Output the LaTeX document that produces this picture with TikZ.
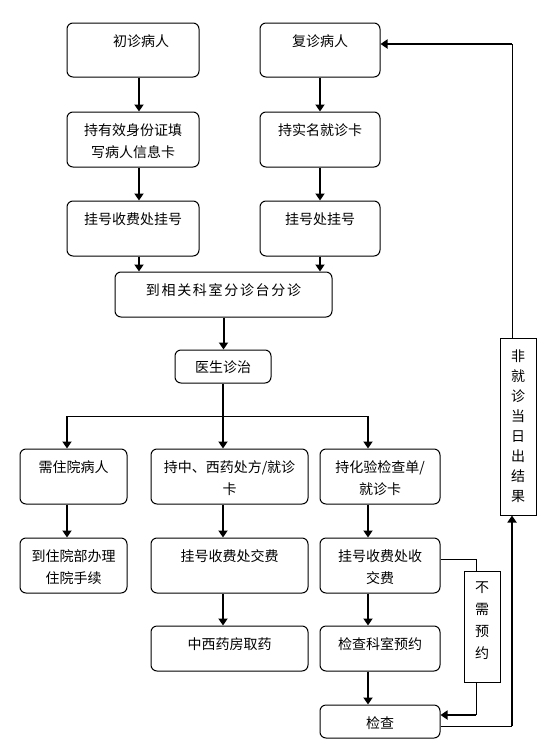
\documentclass[tikz,border=0pt]{standalone}
\usepackage{fontspec}
\setmainfont{Noto Sans CJK SC}
\newfontfamily\widecjk[LetterSpace=12]{Noto Sans CJK SC}
\usetikzlibrary{arrows.meta}
\newcommand\bt[4]{\parbox[c][#2pt][t]{#1pt}{\centering\rule{0pt}{#3pt}#4\par}}
\tikzset{
  box/.style={draw, rounded corners=6pt, inner sep=0pt, line width=1pt, font=\fontsize{14pt}{22pt}\selectfont},
  sbox/.style={draw, inner sep=0pt, line width=1pt},
  thinline/.style={line width=1pt},
  arr/.style={line width=2pt, -{Triangle[length=7pt,width=9pt]}}
}
\begin{document}
\begin{tikzpicture}[x=1pt,y=-1pt]
\useasboundingbox (0,0) rectangle (558,742);
% left column
\node[box] (a1) at (133,50) {\bt{132}{54}{23}{\hspace*{16pt}初诊病人}};
\node[box] (a2) at (133,139.5) {\bt{132}{55}{23}{持有效身份证填\\写病人信息卡}};
\node[box] (a3) at (133,228.5) {\bt{132}{55}{23}{挂号收费处挂号}};
% right column
\node[box] (b1) at (320,50) {\bt{120}{54}{23}{复诊病人}};
\node[box] (b2) at (320,139.5) {\bt{120}{55}{23}{持实名就诊卡}};
\node[box] (b3) at (320,228.5) {\bt{120}{55}{23}{挂号处挂号}};
% middle
\node[box] (m1) at (223.5,294.5) {\bt{217}{45}{23}{\widecjk 到相关科室分诊台分诊}};
\node[box] (m2) at (223,366.5) {\bt{96}{33}{22}{医生诊治}};
% lower branches
\node[box] (c1) at (73.5,476.5) {\bt{107}{55}{23}{需住院病人}};
\node[box] (c2) at (73.5,565.5) {\bt{107}{55}{23}{到住院部办理\\住院手续}};
\node[box] (d1) at (229.5,476.5) {\bt{157}{55}{23}{持中、西药处方/就诊\\卡}};
\node[box] (d2) at (229.5,565.5) {\bt{157}{55}{23}{挂号收费处交费}};
\node[box] (d3) at (229.5,648.5) {\bt{157}{45}{23}{中西药房取药}};
\node[box] (e1) at (380,476.5) {\bt{120}{55}{23}{持化验检查单/\\就诊卡}};
\node[box] (e2) at (380,565.5) {\bt{120}{55}{23}{挂号收费处收\\交费}};
\node[box] (e3) at (380,648.5) {\bt{120}{45}{23}{检查科室预约}};
\node[box] (e4) at (380,721.5) {\bt{120}{33}{23}{检查}};
% side boxes
\node[sbox, font=\fontsize{14pt}{20pt}\selectfont] (r) at (518,426.5) {\bt{36}{177}{23}{非\\就\\诊\\当\\日\\出\\结\\果}};
\node[sbox, font=\fontsize{14pt}{22pt}\selectfont] (n) at (482,626.5) {\bt{36}{111}{21}{不\\需\\预\\约}};
% connectors top
\draw[arr] ([xshift=6pt]a1.south) -- ([xshift=6pt]a2.north);
\draw[arr] ([xshift=6pt]a2.south) -- ([xshift=6pt]a3.north);
\draw[arr] ([xshift=6pt]a3.south) -- ([xshift=6pt]a3.south |- m1.north);
\draw[arr] (b1.south) -- (b2.north);
\draw[arr] (b2.south) -- (b3.north);
\draw[arr] (b3.south) -- (b3.south |- m1.north);
\draw[arr] (m1.south) -- (m1.south |- m2.north);
% branch
\coordinate (brL) at (67,416);
\coordinate (brM) at (223,416);
\coordinate (brR) at (368,416);
\draw[thinline] (brL) -- (brR);
\draw[arr] (m2.south) -- (brM |- d1.north);
\draw[arr] (brL) -- (brL |- c1.north);
\draw[arr] (brR) -- (brR |- e1.north);
\draw[arr] (brL |- c1.south) -- (brL |- c2.north);
\draw[arr] (brM |- d1.south) -- (brM |- d2.north);
\draw[arr] (brM |- d2.south) -- (brM |- d3.north);
\draw[arr] (brR |- e1.south) -- (brR |- e2.north);
\draw[arr] (brR |- e2.south) -- (brR |- e3.north);
\draw[arr] (brR |- e3.south) -- (brR |- e4.north);
% no appointment path
\coordinate (nx) at (476,559);
\coordinate (ny) at (476,715);
\draw[thinline] (e2.east |- nx) -- (nx) -- (nx |- n.north);
\draw[thinline] (nx |- n.south) -- (ny);
\draw[arr] (ny) -- (ny -| e4.east);
% return path
\coordinate (rx) at (512,726);
\coordinate (ry) at (512,44);
\draw[thinline] (rx -| e4.east) -- (rx);
\draw[arr] (rx) -- (rx |- r.south);
\draw[thinline] (rx |- r.north) -- (ry);
\draw[arr] (ry) -- (ry -| b1.east);
\end{tikzpicture}
\end{document}
